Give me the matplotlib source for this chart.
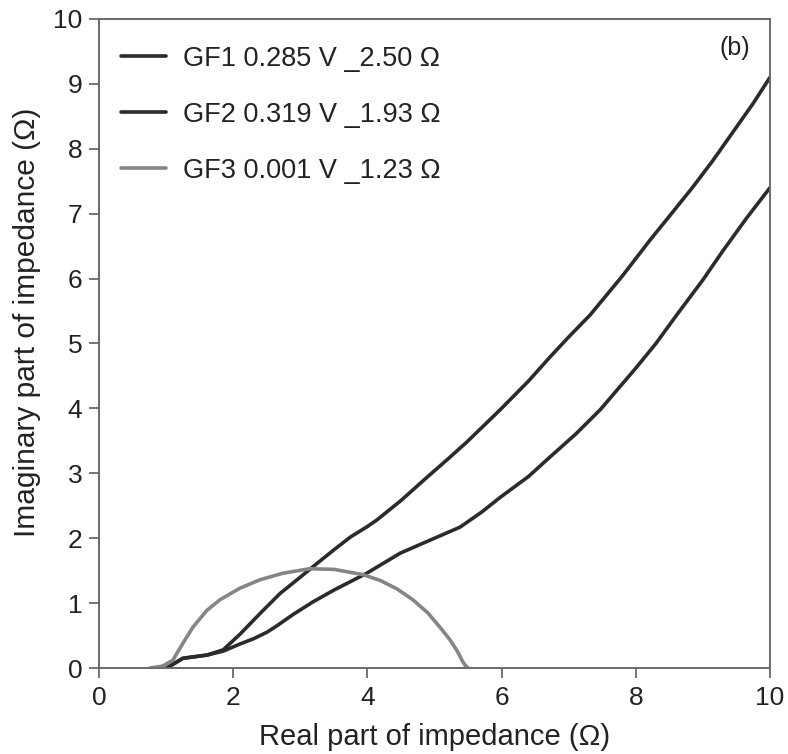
import matplotlib
matplotlib.use("Agg")
import matplotlib.pyplot as plt

plt.rcParams['font.family'] = ['Liberation Sans', 'DejaVu Sans']

# Nyquist data (real part, imaginary part) in ohms
gf1_re = [1.01, 1.25, 1.61, 1.85, 2.1, 2.4, 2.7, 3.0, 3.2, 3.5, 3.75, 4.0, 4.14,
          4.5, 4.89, 5.2, 5.48, 5.98, 6.4, 6.72, 7.0, 7.32, 7.8, 8.21, 8.5, 8.85,
          9.15, 9.45, 9.75, 10.0]
gf1_im = [0.0, 0.15, 0.20, 0.28, 0.52, 0.84, 1.15, 1.40, 1.57, 1.82, 2.02, 2.18, 2.28,
          2.58, 2.94, 3.22, 3.48, 3.98, 4.42, 4.79, 5.1, 5.44, 6.04, 6.59, 6.96, 7.41,
          7.82, 8.26, 8.7, 9.1]

gf2_re = [1.01, 1.25, 1.61, 1.85, 2.1, 2.3, 2.5, 2.65, 2.9, 3.19, 3.5, 3.99, 4.49,
          5.0, 5.38, 5.7, 5.98, 6.4, 6.72, 7.1, 7.47, 8.0, 8.3, 8.61, 9.0, 9.30,
          9.65, 10.0]
gf2_im = [0.0, 0.15, 0.20, 0.26, 0.37, 0.45, 0.55, 0.65, 0.83, 1.02, 1.20, 1.46, 1.77,
          2.0, 2.17, 2.4, 2.63, 2.95, 3.25, 3.6, 3.98, 4.62, 5.0, 5.44, 5.98, 6.43,
          6.93, 7.4]

gf3_re = [0.76, 0.95, 1.1, 1.25, 1.40, 1.61, 1.80, 2.10, 2.40, 2.74, 3.14, 3.5, 3.93,
          4.19, 4.44, 4.68, 4.9, 5.08, 5.22, 5.34, 5.42, 5.46, 5.50]
gf3_im = [0.0, 0.03, 0.12, 0.38, 0.63, 0.89, 1.05, 1.23, 1.36, 1.46, 1.53, 1.52, 1.44,
          1.35, 1.22, 1.05, 0.85, 0.63, 0.45, 0.26, 0.10, 0.04, 0.0]

labels = ["GF1 0.285 V _2.50 \u03a9", "GF2 0.319 V _1.93 \u03a9", "GF3 0.001 V _1.23 \u03a9"]
ticks = [0, 2, 4, 6, 8, 10]
yticks = list(range(0, 11))

text_c = "#222222"
spine_c = "#6a6a6a"

fig = plt.figure(figsize=(7.88, 7.54), dpi=100)
ax = fig.add_axes([0.1256, 0.114, 0.8516, 0.861])

line_kw = dict(lw=2.6, solid_capstyle='round', solid_joinstyle='round')
ax.plot(gf1_re, gf1_im, color="#2b2b2b", label=labels[0], **line_kw)
ax.plot(gf2_re, gf2_im, color="#2b2b2b", label=labels[1], **line_kw)
ax.plot(gf3_re, gf3_im, color="#858585", label=labels[2], **line_kw)

ax.set_xlim(0, 10)
ax.set_ylim(0, 10)
ax.set_xticks(ticks)
ax.set_yticks(yticks)

for s in ax.spines.values():
    s.set_color(spine_c)
    s.set_linewidth(1.4)

ax.tick_params(axis='both', direction='out', length=7, width=1.3, color=spine_c,
               labelsize=19, labelcolor=text_c, top=False, right=False)
ax.tick_params(axis='x', pad=6)
ax.tick_params(axis='y', pad=5)

ax.set_xlabel("Real part of impedance (\u03a9)", fontsize=21, color=text_c, labelpad=9)
ax.set_ylabel("Imaginary part of impedance (\u03a9)", fontsize=21.5, color=text_c)
ax.yaxis.set_label_coords(-0.087, 0.532)

ax.text(0.948, 0.955, "(b)", transform=ax.transAxes, ha='center', va='center',
        fontsize=18, color=text_c)

leg = ax.legend(loc='upper left', bbox_to_anchor=(-0.0075, 1.0), frameon=False,
                fontsize=19.5, handlelength=1.65, handletextpad=0.65,
                labelspacing=1.1, borderaxespad=0.6)
for t in leg.get_texts():
    t.set_color(text_c)

fig.savefig("out.png", dpi=100, facecolor="white")
